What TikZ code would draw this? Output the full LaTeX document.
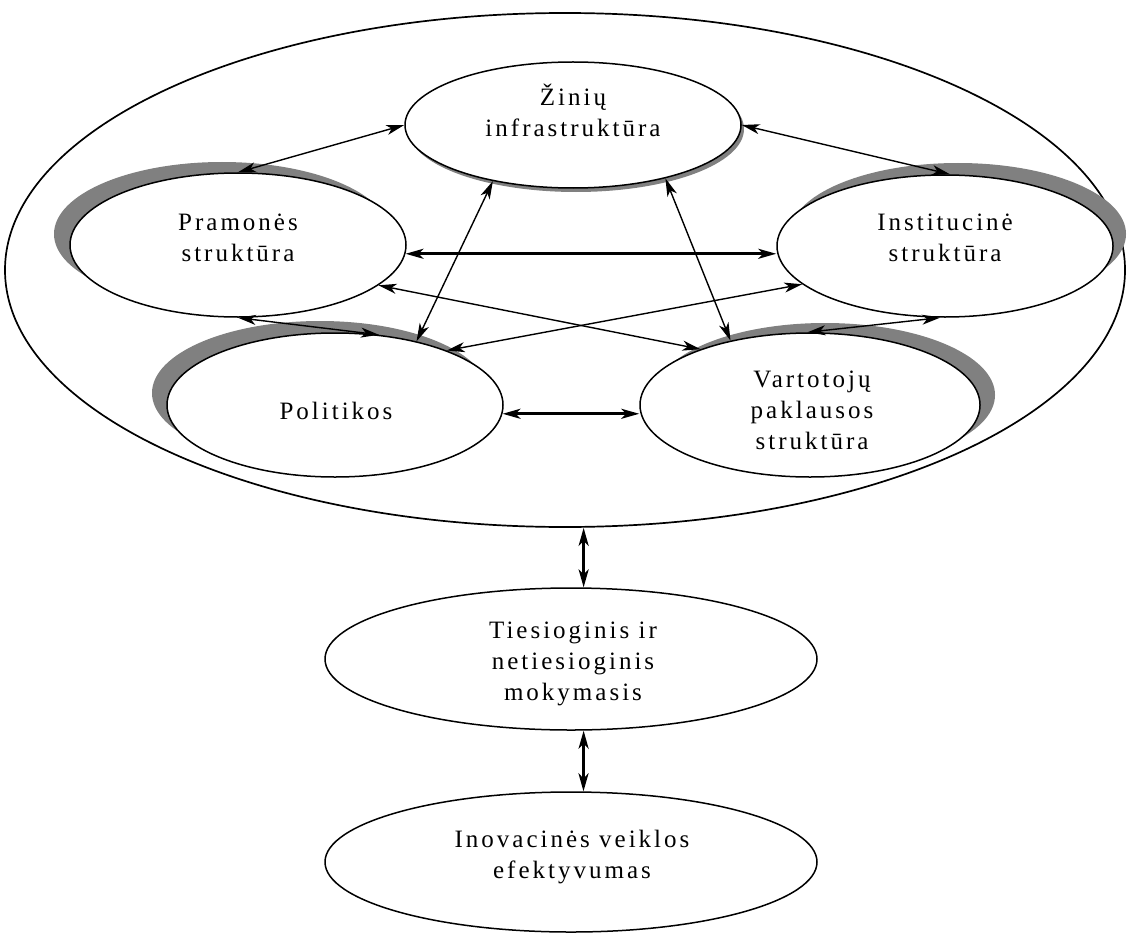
\documentclass[tikz,border=0pt]{standalone}
\usepackage{fontspec}
\setmainfont[LetterSpace=12]{Liberation Serif}
\usetikzlibrary{shapes.geometric,arrows.meta,shadows}

\begin{document}
\begin{tikzpicture}[x=0.5pt, y=-0.5pt,
		blob/.style={ellipse, draw, line width=0.75pt, fill=white, inner sep=0pt},
		txt/.style={align=center, font=\fontsize{12.5}{15.5}\selectfont},
		link/.style={<->, line width=0.7pt},
		biglink/.style={<->, line width=1.4pt},
		>={Stealth[length=9pt, width=5pt, inset=2.5pt]}]
	\useasboundingbox (0,0) rectangle (1127,936);
	\node[blob, line width=0.85pt, minimum width=560pt, minimum height=257pt] (sys) at (565,270) {};
	\node[blob, minimum width=168pt, minimum height=63pt, drop shadow={shadow xshift=1.5pt, shadow yshift=-2pt, fill=black!50, opacity=1}] (zin) at (573,125) {};
	\node[blob, minimum width=168pt, minimum height=72pt, drop shadow={shadow xshift=-8pt, shadow yshift=5.5pt, fill=black!50, opacity=1}] (pra) at (238,245) {};
	\node[blob, minimum width=168pt, minimum height=71pt, drop shadow={shadow xshift=6.5pt, shadow yshift=6pt, fill=black!50, opacity=1}] (ins) at (945,246) {};
	\node[blob, minimum width=168pt, minimum height=72pt, drop shadow={shadow xshift=-7.5pt, shadow yshift=6pt, fill=black!50, opacity=1}] (pol) at (335,405) {};
	\node[blob, minimum width=170pt, minimum height=72pt, drop shadow={shadow xshift=7.5pt, shadow yshift=5pt, fill=black!50, opacity=1}] (var) at (810,405) {};
	\node[blob, minimum width=246pt, minimum height=71pt] (tie) at (571,659) {};
	\node[blob, minimum width=246pt, minimum height=70pt] (ino) at (571,862) {};

	\node[txt] (zin-t) at (573,110) {Žinių\\infrastruktūra};
	\node[txt] (pra-t) at (238,238) {Pramonės\\struktūra};
	\node[txt] (ins-t) at (945,238) {Institucinė\\struktūra};
	\node[txt] (pol-t) at (336,411) {Politikos};
	\node[txt] (var-t) at (812,410) {Vartotojų\\paklausos\\struktūra};
	\node[txt] (tie-t) at (573,664) {Tiesioginis ir\\netiesioginis\\mokymasis};
	\node[txt] (ino-t) at (572,857) {Inovacinės veiklos\\efektyvumas};

	\draw[link] (zin.west) -- (pra.north);
	\draw[link] (zin.east) -- (ins.86);
	\draw[link] (zin.215) -- (pol.38);
	\draw[link] (zin.330) -- (var.141);
	\draw[biglink] (pra.-3) -- (pra.-3 -| ins.west);
	\draw[link] (pra.-16) -- (var.153);
	\draw[link] (ins.195) -- (pol.26);
	\draw[link] (pra.south) -- (pol.58);
	\draw[link] (ins.266) -- (var.92);
	\draw[biglink] (pol.-3) -- (pol.-3 -| var.west);
	\draw[biglink] (tie.80 |- sys.south) -- (tie.80);
	\draw[biglink] (tie.280) -- (ino.80);
\end{tikzpicture}
\end{document}
